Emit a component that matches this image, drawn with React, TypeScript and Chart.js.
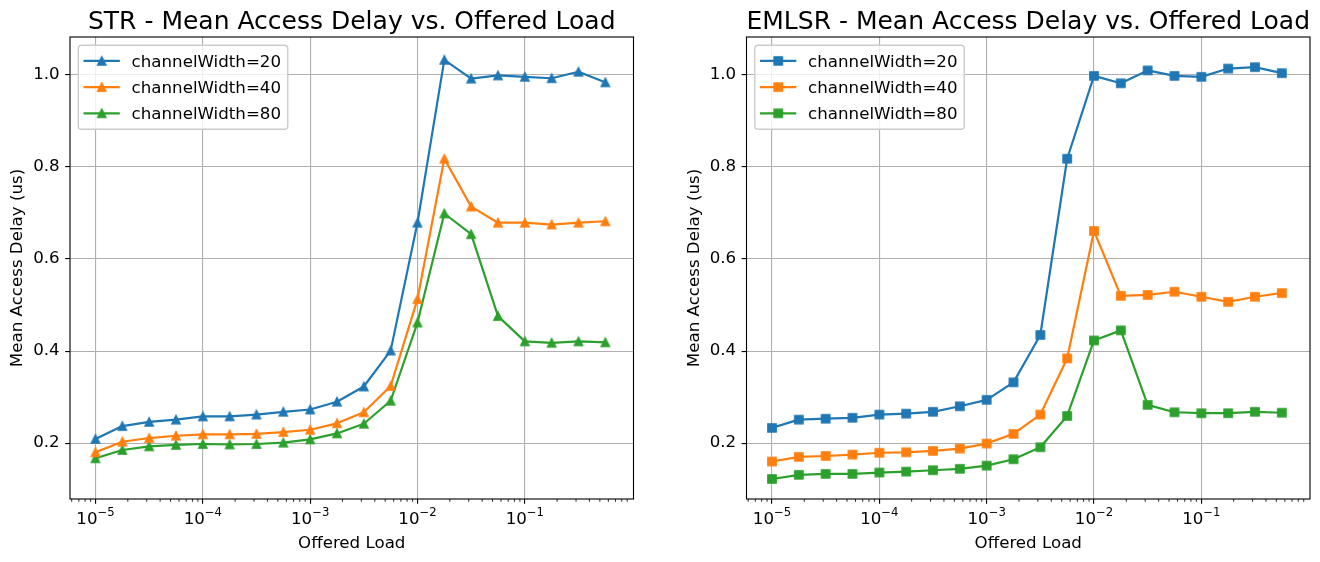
import React, { useEffect, useRef } from "react";
import Chart from "chart.js/auto";

// ---------- data ----------
const offeredLoad = [
  1e-5, 1.778e-5, 3.162e-5, 5.623e-5,
  1e-4, 1.778e-4, 3.162e-4, 5.623e-4,
  1e-3, 1.778e-3, 3.162e-3, 5.623e-3,
  1e-2, 1.778e-2, 3.162e-2, 5.623e-2,
  0.1, 0.1778, 0.3162, 0.5623,
];

const strCw20 = [0.209, 0.237, 0.246, 0.251, 0.258, 0.258, 0.262, 0.268, 0.273, 0.290, 0.323, 0.401, 0.679, 1.033, 0.992, 0.999, 0.996, 0.993, 1.007, 0.984];
const strCw40 = [0.180, 0.203, 0.211, 0.216, 0.219, 0.219, 0.220, 0.224, 0.229, 0.243, 0.267, 0.324, 0.513, 0.818, 0.714, 0.679, 0.679, 0.675, 0.679, 0.682];
const strCw80 = [0.167, 0.185, 0.193, 0.196, 0.198, 0.197, 0.198, 0.201, 0.208, 0.221, 0.242, 0.292, 0.462, 0.699, 0.654, 0.476, 0.421, 0.418, 0.421, 0.419];

const emlsrCw20 = [0.233, 0.251, 0.253, 0.255, 0.262, 0.264, 0.268, 0.280, 0.294, 0.332, 0.435, 0.818, 0.998, 0.982, 1.010, 0.998, 0.996, 1.014, 1.017, 1.004];
const emlsrCw40 = [0.160, 0.170, 0.172, 0.175, 0.179, 0.180, 0.183, 0.188, 0.199, 0.220, 0.262, 0.384, 0.661, 0.520, 0.522, 0.529, 0.518, 0.507, 0.518, 0.526];
const emlsrCw80 = [0.122, 0.131, 0.133, 0.133, 0.136, 0.138, 0.141, 0.144, 0.151, 0.165, 0.191, 0.259, 0.423, 0.445, 0.283, 0.267, 0.265, 0.265, 0.268, 0.266];

const seriesLabels = ["channelWidth=20", "channelWidth=40", "channelWidth=80"];
const seriesColors = ["#1f77b4", "#ff7f0e", "#2ca02c"];

const xMajorTicks = [1e-5, 1e-4, 1e-3, 1e-2, 1e-1];
const xTickBase = "10";
const xTickExponents = ["\u22125", "\u22124", "\u22123", "\u22122", "\u22121"];
const yTicks = [0.2, 0.4, 0.6, 0.8, 1.0];
const yTickLabels = ["0.2", "0.4", "0.6", "0.8", "1.0"];

const chartTitles = [
  "STR - Mean Access Delay vs. Offered Load",
  "EMLSR - Mean Access Delay vs. Offered Load",
];
const xAxisTitle = "Offered Load";
const yAxisTitle = "Mean Access Delay (us)";

// ---------- style ----------
const FONT = '"DejaVu Sans", "Noto Sans", sans-serif';
const FS = 16.67;
const X_MIN = 5.787e-6;
const X_MAX = 1.0292;
const Y_MIN = 0.0785;
const Y_MAX = 1.0826;

function makeMarker(shape: "triangle" | "square", color: string): HTMLCanvasElement {
  const s = 14;
  const c = document.createElement("canvas");
  c.width = s;
  c.height = s;
  const ctx = c.getContext("2d")!;
  ctx.fillStyle = color;
  ctx.strokeStyle = color;
  ctx.lineWidth = 1.39;
  ctx.lineJoin = "miter";
  const h = 4.17;
  const m = s / 2;
  ctx.beginPath();
  if (shape === "triangle") {
    ctx.moveTo(m, m - h);
    ctx.lineTo(m - h, m + h);
    ctx.lineTo(m + h, m + h);
    ctx.closePath();
  } else {
    ctx.rect(m - h, m - h, 2 * h, 2 * h);
  }
  ctx.fill();
  ctx.stroke();
  return c;
}

function makeConfig(
  idx: number,
  series: number[][],
  shape: "triangle" | "square",
  padLeft: number,
  padRight: number
): any {
  const markers = seriesColors.map((c) => makeMarker(shape, c));

  const decoPlugin = {
    id: "deco" + idx,
    afterDraw(chart: any) {
      const { ctx, chartArea: a } = chart;
      const xs = chart.scales.x;
      ctx.save();
      // minor ticks on the log axis
      ctx.strokeStyle = "#000";
      ctx.lineWidth = 0.83;
      for (let d = -6; d <= 0; d++) {
        for (let m = 2; m <= 9; m++) {
          const v = m * Math.pow(10, d);
          if (v < xs.min || v > xs.max) continue;
          const px = xs.getPixelForValue(v);
          ctx.beginPath();
          ctx.moveTo(px, a.bottom);
          ctx.lineTo(px, a.bottom + 2.78);
          ctx.stroke();
        }
      }
      // x tick labels (mathtext-like 10^-n)
      ctx.fillStyle = "#000";
      ctx.textBaseline = "alphabetic";
      ctx.textAlign = "left";
      xMajorTicks.forEach((v, i) => {
        const px = xs.getPixelForValue(v);
        ctx.font = `${FS}px ${FONT}`;
        const wb = ctx.measureText(xTickBase).width;
        ctx.font = `${FS * 0.7}px ${FONT}`;
        const we = ctx.measureText(xTickExponents[i]).width;
        const x0 = px - (wb + we) / 2;
        ctx.font = `${FS}px ${FONT}`;
        ctx.fillText(xTickBase, x0, 523.5);
        ctx.font = `${FS * 0.7}px ${FONT}`;
        ctx.fillText(xTickExponents[i], x0 + wb, 516.3);
      });
      // frame
      ctx.strokeStyle = "#000";
      ctx.lineWidth = 1.11;
      ctx.strokeRect(a.left, a.top, a.right - a.left, a.bottom - a.top);
      // title
      ctx.fillStyle = "#000";
      ctx.font = `25px ${FONT}`;
      ctx.textAlign = "center";
      ctx.textBaseline = "alphabetic";
      ctx.fillText(chartTitles[idx], (a.left + a.right) / 2, 29);
      // legend
      ctx.font = `${FS}px ${FONT}`;
      const tw = Math.max(...seriesLabels.map((l) => ctx.measureText(l).width));
      const bx = a.left + 8.3;
      const by = a.top + 8.3;
      const bw = 53.3 + tw + 6.7;
      const bh = 84;
      const r = 3.3;
      ctx.beginPath();
      ctx.moveTo(bx + r, by);
      ctx.lineTo(bx + bw - r, by);
      ctx.arcTo(bx + bw, by, bx + bw, by + r, r);
      ctx.lineTo(bx + bw, by + bh - r);
      ctx.arcTo(bx + bw, by + bh, bx + bw - r, by + bh, r);
      ctx.lineTo(bx + r, by + bh);
      ctx.arcTo(bx, by + bh, bx, by + bh - r, r);
      ctx.lineTo(bx, by + r);
      ctx.arcTo(bx, by, bx + r, by, r);
      ctx.closePath();
      ctx.fillStyle = "rgba(255,255,255,0.8)";
      ctx.fill();
      ctx.strokeStyle = "#cccccc";
      ctx.lineWidth = 1.39;
      ctx.stroke();
      seriesLabels.forEach((label, i) => {
        const cy = by + 15.6 + i * 26.2;
        ctx.strokeStyle = seriesColors[i];
        ctx.lineWidth = 2.2;
        ctx.lineCap = "butt";
        ctx.beginPath();
        ctx.moveTo(bx + 5.2, cy);
        ctx.lineTo(bx + 41.5, cy);
        ctx.stroke();
        const mk = markers[i];
        ctx.drawImage(mk, bx + 23.4 - mk.width / 2, cy - mk.height / 2);
        ctx.fillStyle = "#000";
        ctx.textAlign = "left";
        ctx.textBaseline = "alphabetic";
        ctx.fillText(label, bx + 53.3, cy + 6);
      });
      ctx.restore();
    },
  };

  return {
    type: "line",
    data: {
      datasets: series.map((vals, i) => ({
        label: seriesLabels[i],
        data: offeredLoad.map((x, j) => ({ x, y: vals[j] })),
        borderColor: seriesColors[i],
        backgroundColor: seriesColors[i],
        borderWidth: 2.2,
        borderJoinStyle: "round",
        borderCapStyle: "square",
        tension: 0,
        pointStyle: markers[i],
        pointRadius: 5,
        pointHoverRadius: 5,
      })),
    },
    options: {
      responsive: false,
      maintainAspectRatio: false,
      animation: false,
      events: [],
      layout: { padding: { top: 37, bottom: 0, left: padLeft, right: padRight } },
      plugins: {
        legend: { display: false },
        tooltip: { enabled: false },
        title: { display: false },
      },
      scales: {
        x: {
          type: "logarithmic",
          min: X_MIN,
          max: X_MAX,
          afterBuildTicks: (scale: any) => {
            scale.ticks = xMajorTicks.map((v) => ({ value: v }));
          },
          afterFit: (scale: any) => {
            scale.height = 63;
          },
          ticks: {
            autoSkip: false,
            maxRotation: 0,
            minRotation: 0,
            padding: 4.5,
            color: "#000",
            font: { family: FONT, size: FS },
            callback: () => "",
          },
          grid: {
            color: "#b0b0b0",
            lineWidth: 1.11,
            drawTicks: true,
            tickLength: 4.86,
            tickColor: "#000",
            tickWidth: 1.11,
          },
          border: { display: false },
          title: {
            display: true,
            text: xAxisTitle,
            color: "#000",
            font: { family: FONT, size: FS },
            padding: { top: 0, bottom: 8.5 },
          },
        },
        y: {
          type: "linear",
          min: Y_MIN,
          max: Y_MAX,
          afterBuildTicks: (scale: any) => {
            scale.ticks = yTicks.map((v) => ({ value: v }));
          },
          afterFit: (scale: any) => {
            scale.width = 70;
          },
          ticks: {
            autoSkip: false,
            padding: 5.5,
            color: "#000",
            font: { family: FONT, size: FS },
            callback: (v: number) => {
              const i = yTicks.findIndex((t) => Math.abs(t - v) < 1e-9);
              return i >= 0 ? yTickLabels[i] : "";
            },
          },
          grid: {
            color: "#b0b0b0",
            lineWidth: 1.11,
            drawTicks: true,
            tickLength: 4.86,
            tickColor: "#000",
            tickWidth: 1.11,
          },
          border: { display: false },
          title: {
            display: true,
            text: yAxisTitle,
            color: "#000",
            font: { family: FONT, size: FS },
            padding: { top: 8, bottom: 0 },
          },
        },
      },
    },
    plugins: [decoPlugin],
  };
}

export default function App() {
  const leftRef = useRef<HTMLCanvasElement>(null);
  const rightRef = useRef<HTMLCanvasElement>(null);

  useEffect(() => {
    const charts = [
      new Chart(leftRef.current!, makeConfig(0, [strCw20, strCw40, strCw80], "triangle", 0, 686.5)),
      new Chart(rightRef.current!, makeConfig(1, [emlsrCw20, emlsrCw40, emlsrCw80], "square", 676.5, 10)),
    ];
    return () => charts.forEach((c) => c.destroy());
  }, []);

  const canvasStyle: React.CSSProperties = {
    position: "absolute",
    left: 0,
    top: 0,
    width: 1320,
    height: 562,
  };

  return (
    <div style={{ position: "absolute", left: 0, top: 0, width: 1320, height: 562, background: "#fff" }}>
      <canvas ref={leftRef} width={1320} height={562} style={canvasStyle} />
      <canvas ref={rightRef} width={1320} height={562} style={canvasStyle} />
    </div>
  );
}
